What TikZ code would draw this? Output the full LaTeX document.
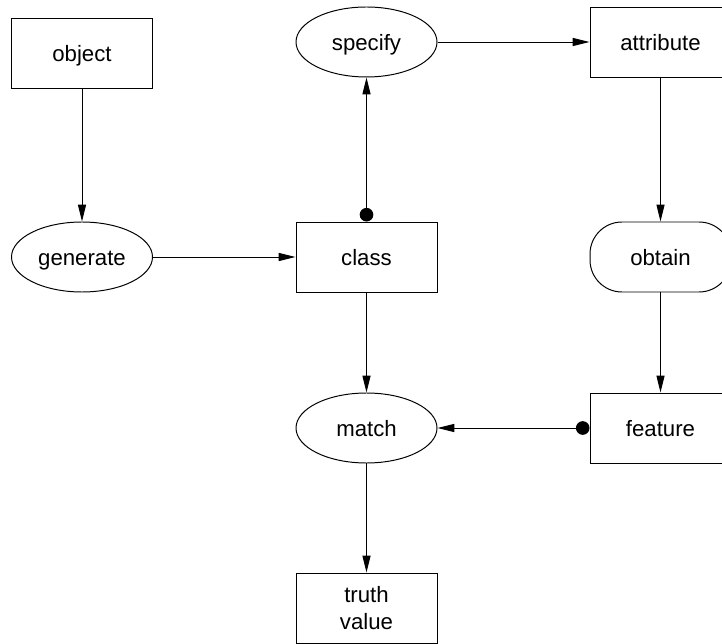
\documentclass[tikz,border=0pt]{standalone}
\usepackage{fontspec}
\setmainfont{Liberation Sans}
\usetikzlibrary{arrows.meta,shapes.geometric}

\begin{document}
\begin{tikzpicture}[
    font=\fontsize{15.8}{19}\selectfont,
    word/.style={text height=12.7pt, text depth=0pt},
    box/.style={draw, line width=0.7pt, rectangle, minimum width=3.525cm, minimum height=1.75cm, inner sep=0pt, align=center},
    oval/.style={draw, line width=0.7pt, ellipse, minimum width=3.525cm, minimum height=1.75cm, inner sep=0pt, word},
    pill/.style={draw, line width=0.7pt, rectangle, rounded corners=0.8cm, minimum width=3.525cm, minimum height=1.75cm, inner sep=0pt, word},
    link/.style={line width=0.7pt, -{Triangle[length=0.42cm,width=0.2cm]}},
    dotlink/.style={line width=0.7pt, {Circle[length=0.34cm]}-{Triangle[length=0.42cm,width=0.2cm]}}
  ]
  \useasboundingbox (0,0) rectangle (18.05,16.075);

  \node[box, word] (object) at (2.05,14.75) {object};
  \node[oval] (generate) at (2.05,9.65) {generate};
  \node[oval] (specify) at (9.1625,15.025) {specify};
  \node[box, word] (class) at (9.1625,9.65) {class};
  \node[oval] (match) at (9.1625,5.375) {match};
  \node[box] (truth) at (9.1625,0.875) {truth\\value};
  \node[box, word] (attribute) at (16.5125,15.025) {attribute};
  \node[pill] (obtain) at (16.5125,9.65) {obtain};
  \node[box, word] (feature) at (16.5125,5.375) {feature};

  \draw[link] (object) -- (generate);
  \draw[link] (generate) -- (class);
  \draw[dotlink] (class) -- (specify);
  \draw[link] (specify) -- (attribute);
  \draw[link] (attribute) -- (obtain);
  \draw[link] (obtain) -- (feature);
  \draw[dotlink] (feature) -- (match);
  \draw[link] (class) -- (match);
  \draw[link] (match) -- (truth);
\end{tikzpicture}
\end{document}
